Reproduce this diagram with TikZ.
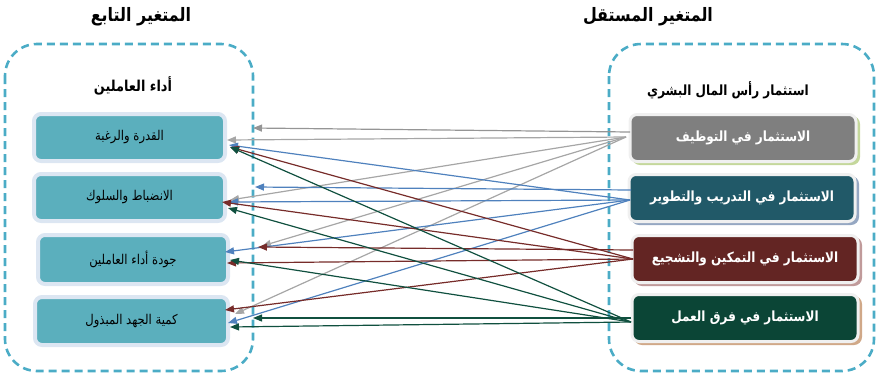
\documentclass[tikz,border=0pt]{standalone}
\usepackage{fontspec}
\usetikzlibrary{arrows.meta}
\newfontfamily\arabicfont[Script=Arabic, FakeStretch=0.86]{DejaVu Sans}
\TeXXeTstate=1
\definecolor{cont}{HTML}{4BACC6}
\definecolor{lfill}{HTML}{5BAFBD}
\definecolor{lring}{HTML}{DCE6F2}
\definecolor{cgray}{HTML}{7F7F7F}
\definecolor{cteal}{HTML}{215968}
\definecolor{cred}{HTML}{632523}
\definecolor{cgreen}{HTML}{0B4536}
\definecolor{agray}{HTML}{A6A6A6}
\definecolor{agrayd}{HTML}{959595}
\definecolor{ablue}{HTML}{4F81BD}
\definecolor{ared}{HTML}{772C2A}
\definecolor{agreen}{HTML}{10503F}
\definecolor{sgray}{HTML}{C4D79B}
\definecolor{steal}{HTML}{95A7C2}
\definecolor{sred}{HTML}{C09A9A}
\definecolor{sgreen}{HTML}{D0A888}
\tikzset{
  container/.style={draw=cont, line width=2.6pt, dash pattern=on 8pt off 5pt, rounded corners=32pt},
  leftbox/.style={draw=lring, line width=4pt, fill=lfill, rounded corners=7pt, minimum height=47pt, inner sep=0pt, font=\arabicfont\fontsize{13.5}{15}\selectfont, text=black},
  rightbox/.style={draw=white!94!black, line width=3pt, rounded corners=7pt, minimum width=226pt, minimum height=47pt, inner sep=0pt, font=\arabicfont\bfseries\fontsize{14}{16}\selectfont, text=white},
  shadowbox/.style={rounded corners=8pt, minimum width=228pt, minimum height=49pt, inner sep=0pt},
  title/.style={font=\arabicfont\bfseries\fontsize{18.5}{20}\selectfont},
  subtitle/.style={font=\arabicfont\bfseries\fontsize{15}{17}\selectfont},
  subtitleR/.style={font=\arabicfont\bfseries\fontsize{14}{16}\selectfont},
  conn/.style={line width=1.2pt, -{Triangle[length=9pt,width=7pt]}},
}
\begin{document}
\begin{tikzpicture}[x=1pt,y=-1pt]
\useasboundingbox (0,0) rectangle (876,376);
% containers
\draw[container] (5,44) rectangle (253,371);
\draw[container] (609,44) rectangle (874,371);
% titles
\node[title] (tdep) at (141,17) {\beginR المتغير التابع\endR};
\node[title] (tind) at (648,17) {\beginR المتغير المستقل\endR};
\node[subtitle] (sdep) at (133,86) {\beginR أداء العاملين\endR};
\node[subtitleR] (sind) at (728,90) {\beginR استثمار رأس المال البشري\endR};
% left boxes
\node[leftbox, minimum width=191pt] (L1) at (129.5,137.5) {\beginR القدرة والرغبة\endR};
\node[leftbox, minimum width=191pt] (L2) at (129.5,197.5) {\beginR الانضباط والسلوك\endR};
\node[leftbox, minimum width=190pt, minimum height=49pt] (L3) at (133,259.5) {\beginR جودة أداء العاملين\endR};
\node[leftbox, minimum width=193pt, minimum height=48pt] (L4) at (131.5,321) {\beginR كمية الجهد المبذول\endR};
% right boxes shadows
\node[shadowbox, fill=sgray] (R1s) at (746,140.5) {};
\node[shadowbox, fill=steal] (R2s) at (745,200.5) {};
\node[shadowbox, fill=sred] (R3s) at (748,261.5) {};
\node[shadowbox, fill=sgreen] (R4s) at (748,320.5) {};
% right boxes
\node[rightbox, fill=cgray] (R1) at (743,138) {\beginR الاستثمار في التوظيف\endR};
\node[rightbox, fill=cteal] (R2) at (742,198) {\beginR الاستثمار في التدريب والتطوير\endR};
\node[rightbox, fill=cred] (R3) at (745,259) {\beginR الاستثمار في التمكين والتشجيع\endR};
\node[rightbox, fill=cgreen] (R4) at (745,318) {\beginR الاستثمار في فرق العمل\endR};
% connector endpoints
\coordinate (gS0) at (630,132); \coordinate (gS) at (626,137);
\coordinate (bS0) at (631,190); \coordinate (bS) at (630,200);
\coordinate (rS0) at (633,250); \coordinate (rS) at (633,259);
\coordinate (eS0) at (631,318); \coordinate (eS) at (631,322);
\coordinate (gT0) at (253,128); \coordinate (gT1) at (227,140); \coordinate (gT2) at (230,200);
\coordinate (gT3) at (262,246); \coordinate (gT4) at (235,314);
\coordinate (bT0) at (255,187); \coordinate (bT1) at (229,145); \coordinate (bT2) at (229,202);
\coordinate (bT3) at (225,252); \coordinate (bT4) at (228,323);
\coordinate (rT0) at (258,247); \coordinate (rT1) at (230,147); \coordinate (rT2) at (222,202);
\coordinate (rT3) at (227,263); \coordinate (rT4) at (225,310);
\coordinate (eT0) at (253,318); \coordinate (eT1) at (230,147); \coordinate (eT2) at (228,208);
\coordinate (eT3) at (230,260); \coordinate (eT4) at (230,327);
% gray
\draw[conn, agrayd] (gS0) -- (gT0);
\draw[conn, agray] (gS) -- (gT1);
\draw[conn, agray] (gS) -- (gT2);
\draw[conn, agray] (gS) -- (gT3);
\draw[conn, agray] (gS) -- (gT4);
% blue
\draw[conn, ablue] (bS0) -- (bT0);
\draw[conn, ablue] (bS) -- (bT1);
\draw[conn, ablue] (bS) -- (bT2);
\draw[conn, ablue] (bS) -- (bT3);
\draw[conn, ablue] (bS) -- (bT4);
% red
\draw[conn, ared] (rS0) -- (rT0);
\draw[conn, ared] (rS) -- (rT1);
\draw[conn, ared] (rS) -- (rT2);
\draw[conn, ared] (rS) -- (rT3);
\draw[conn, ared] (rS) -- (rT4);
% green
\draw[conn, agreen] (eS0) -- (eT0);
\draw[conn, agreen] (eS) -- (eT1);
\draw[conn, agreen] (eS) -- (eT2);
\draw[conn, agreen] (eS) -- (eT3);
\draw[conn, agreen] (eS) -- (eT4);
\end{tikzpicture}
\end{document}
